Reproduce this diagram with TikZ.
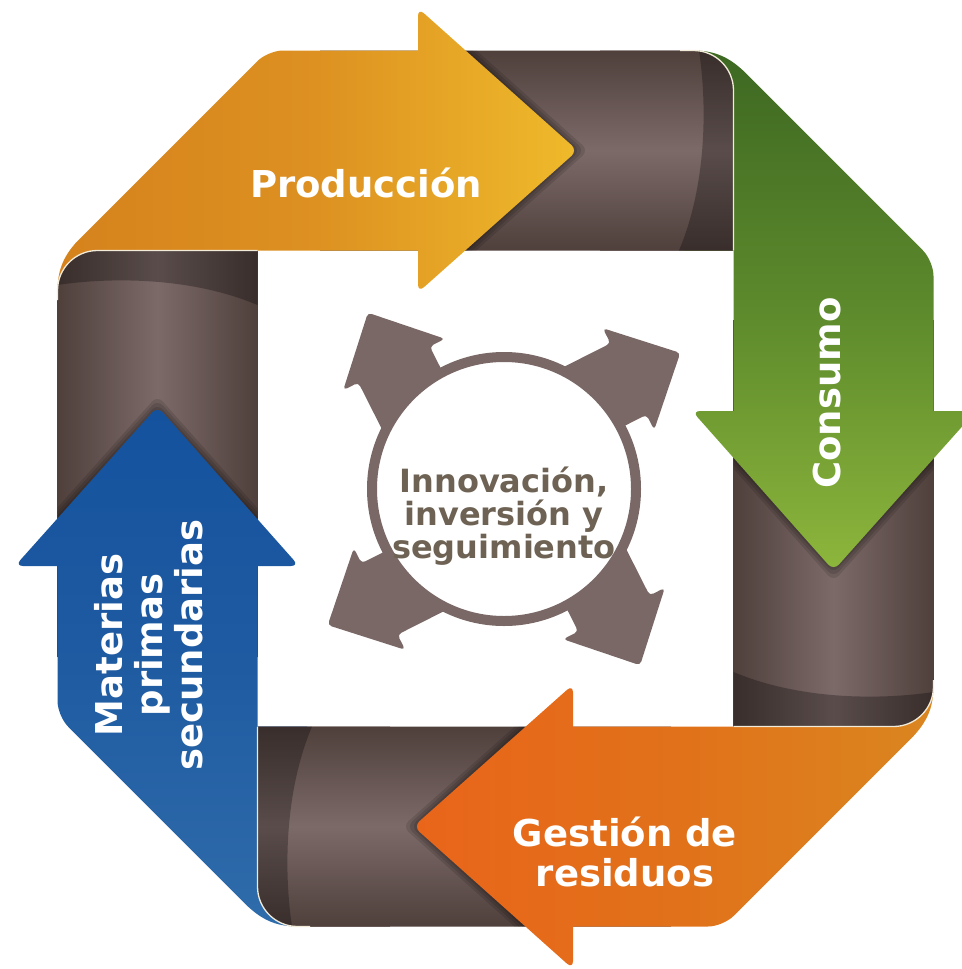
\documentclass[tikz,border=0pt]{standalone}
\usepackage{fontspec}
\newfontfamily\labelfont{DejaVu Sans}
\definecolor{bandedge}{HTML}{4F403C}
\definecolor{bandmid}{HTML}{7C6A68}
\definecolor{hubbrown}{HTML}{7A6866}
\definecolor{hubtext}{HTML}{6D6253}
\definecolor{curl}{HTML}{F3EBD9}
\definecolor{prodA}{HTML}{D5821C}
\definecolor{prodB}{HTML}{DD9121}
\definecolor{prodC}{HTML}{EFBA2B}
\definecolor{consA}{HTML}{3D6822}
\definecolor{consB}{HTML}{5D8A2C}
\definecolor{consC}{HTML}{8DB63C}
\definecolor{gestA}{HTML}{E9651A}
\definecolor{gestB}{HTML}{E1711A}
\definecolor{gestC}{HTML}{DA861F}
\definecolor{matA}{HTML}{14529E}
\definecolor{matB}{HTML}{1F5BA1}
\definecolor{matC}{HTML}{2F6CAB}
\tikzset{
  hilite/.style={draw=curl, line width=1.3pt},
  headshade/.style={fill=black, opacity=.12, rounded corners=8pt},
  curlshade/.style={fill=black, opacity=.28},
  sidetext/.style={text=white, font=\labelfont\bfseries\fontsize{37}{40}\selectfont, align=center},
  hub/.style={fill=hubbrown},
}
\begin{document}
\begin{tikzpicture}[x=1pt,y=-1pt]
\useasboundingbox (0,0) rectangle (961,969);
% brown frame, top / right / bottom / left
\begin{scope}
\clip (320,50.5) [rounded corners=40pt] -- (733.5,50.5) [sharp corners] -- (733.5,250.5) -- (320,250.5) -- cycle;
\shade[top color=bandedge, bottom color=bandedge, middle color=bandmid] (257.5,50.5) rectangle (733.5,250.5);
\foreach \s in {3,7,11}
  \fill[headshade, xshift=\s] (418,8) -- (577.5,150.5) -- (418,292.5) -- cycle;
\end{scope}
\begin{scope}
\clip (733.5,320) -- (933.5,320) [rounded corners=40pt] -- (933.5,726.5) [sharp corners] -- (733.5,726.5) -- cycle;
\shade[left color=bandedge, right color=bandedge, middle color=bandmid] (733.5,250.5) rectangle (933.5,726.5);
\foreach \s in {3,7,11}
  \fill[headshade, yshift=-\s] (976,411) -- (833.5,570.5) -- (692,411) -- cycle;
\end{scope}
\begin{scope}
\clip (671,926.5) [rounded corners=40pt] -- (257.5,926.5) [sharp corners] -- (257.5,726.5) -- (671,726.5) -- cycle;
\shade[top color=bandedge, bottom color=bandedge, middle color=bandmid] (257.5,726.5) rectangle (733.5,926.5);
\foreach \s in {3,7,11}
  \fill[headshade, xshift=-\s] (573,969) -- (413.5,826.5) -- (573,684.5) -- cycle;
\end{scope}
\begin{scope}
\clip (57.5,657) [rounded corners=40pt] -- (57.5,250.5) [sharp corners] -- (257.5,250.5) -- (257.5,657) -- cycle;
\shade[left color=bandedge, right color=bandedge, middle color=bandmid] (57.5,250.5) rectangle (257.5,726.5);
\foreach \s in {3,7,11}
  \fill[headshade, yshift=\s] (15,566) -- (157.5,406.5) -- (299,566) -- cycle;
\end{scope}
% the four ribbons
\shade[left color=prodA, right color=prodC, middle color=prodB]
  (57.5,292) .. controls (57.5,272) and (62,258) .. (77,241.5) [rounded corners=15pt] -- (268,50.5) [sharp corners] -- (418,50.5)
  [rounded corners=8pt] -- (418,8) -- (577.5,150.5) -- (418,292.5) [sharp corners] -- (418,250.5) -- (257.5,250.5) -- (257.5,300) -- (57.5,300) -- cycle;
\shade[top color=consA, bottom color=consC, middle color=consB]
  (692,50.5) .. controls (712,50.5) and (726,55) .. (742.5,70) [rounded corners=15pt] -- (933.5,261) [sharp corners] -- (933.5,411)
  [rounded corners=8pt] -- (976,411) -- (833.5,570.5) -- (692,411) [sharp corners] -- (733.5,411) -- (733.5,250.5) -- (684,250.5) -- (684,50.5) -- cycle;
\shade[left color=gestA, right color=gestC, middle color=gestB]
  (933.5,685) .. controls (933.5,705) and (929,719) .. (914,735.5) [rounded corners=15pt] -- (723,926.5) [sharp corners] -- (573,926.5)
  [rounded corners=8pt] -- (573,969) -- (413.5,826.5) -- (573,684.5) [sharp corners] -- (573,726.5) -- (733.5,726.5) -- (733.5,677) -- (933.5,677) -- cycle;
\shade[top color=matA, bottom color=matC, middle color=matB]
  (299,926.5) .. controls (279,926.5) and (265,922) .. (248.5,907) [rounded corners=15pt] -- (57.5,716) [sharp corners] -- (57.5,566)
  [rounded corners=8pt] -- (15,566) -- (157.5,406.5) -- (299,566) [sharp corners] -- (257.5,566) -- (257.5,726.5) -- (307,726.5) -- (307,926.5) -- cycle;
% frame corners folded over the ribbons
\begin{scope}
\clip (600,50.5) [rounded corners=40pt] -- (733.5,50.5) [sharp corners] -- (733.5,250.5) -- (600,250.5) -- cycle;
\shade[top color=bandedge, bottom color=bandedge, middle color=bandmid] (257.5,50.5) rectangle (733.5,250.5);
\fill[curlshade] (679,250.5) .. controls (707,184) and (707,104) .. (699,50.5) -- (733.5,50.5) -- (733.5,250.5) -- cycle;
\end{scope}
\draw[hilite] (680,50.5) [rounded corners=40pt] -- (733.5,50.5) [sharp corners] -- (733.5,250.5);
\begin{scope}
\clip (733.5,600) -- (933.5,600) [rounded corners=40pt] -- (933.5,726.5) [sharp corners] -- (733.5,726.5) -- cycle;
\shade[left color=bandedge, right color=bandedge, middle color=bandmid] (733.5,250.5) rectangle (933.5,726.5);
\fill[curlshade] (733.5,672) .. controls (800,700) and (880,700) .. (933.5,692) -- (933.5,726.5) -- (733.5,726.5) -- cycle;
\end{scope}
\draw[hilite] (933.5,680) [rounded corners=40pt] -- (933.5,726.5) [sharp corners] -- (733.5,726.5);
\begin{scope}
\clip (390,926.5) [rounded corners=40pt] -- (257.5,926.5) [sharp corners] -- (257.5,726.5) -- (390,726.5) -- cycle;
\shade[top color=bandedge, bottom color=bandedge, middle color=bandmid] (257.5,726.5) rectangle (733.5,926.5);
\fill[curlshade] (312,726.5) .. controls (284,793) and (284,873) .. (292,926.5) -- (257.5,926.5) -- (257.5,726.5) -- cycle;
\end{scope}
\draw[hilite] (310,926.5) [rounded corners=40pt] -- (257.5,926.5) [sharp corners] -- (257.5,726.5);
\begin{scope}
\clip (57.5,380) [rounded corners=40pt] -- (57.5,250.5) [sharp corners] -- (257.5,250.5) -- (257.5,380) -- cycle;
\shade[left color=bandedge, right color=bandedge, middle color=bandmid] (57.5,250.5) rectangle (257.5,726.5);
\fill[curlshade] (257.5,305) .. controls (191,277) and (111,277) .. (57.5,285) -- (57.5,250.5) -- (257.5,250.5) -- cycle;
\end{scope}
\draw[hilite] (57.5,300) [rounded corners=40pt] -- (57.5,250.5) [sharp corners] -- (257.5,250.5);
% hub with four arrows
\foreach \a in {26.8,116.8,206.8,296.8}
  \fill[hub, rounded corners=4pt, shift={(504,489)}, rotate=\a]
    (60,-2) -- (160.7,-2) -- (160.7,15) -- (218.7,-42) -- (160.7,-99) -- (160.7,-82) -- (60,-82) -- cycle;
\draw[draw=hubbrown, line width=10pt, fill=white] (504,489) circle[radius=132];
\node[text=hubtext, font=\labelfont\bfseries\fontsize{32}{33}\selectfont, align=center] (hubtxt) at (504,516) {Innovación,\\inversión y\\seguimiento};
% labels
\node[sidetext, anchor=base] (prod) at (366,197) {Producción};
\node[sidetext, anchor=base, rotate=90] (cons) at (840,393) {Consumo};
\node[sidetext] (gest) at (625,852) {Gestión de\\residuos};
\node[sidetext, rotate=90] (mat) at (148.5,645) {Materias\\primas\\secundarias};
\end{tikzpicture}
\end{document}
